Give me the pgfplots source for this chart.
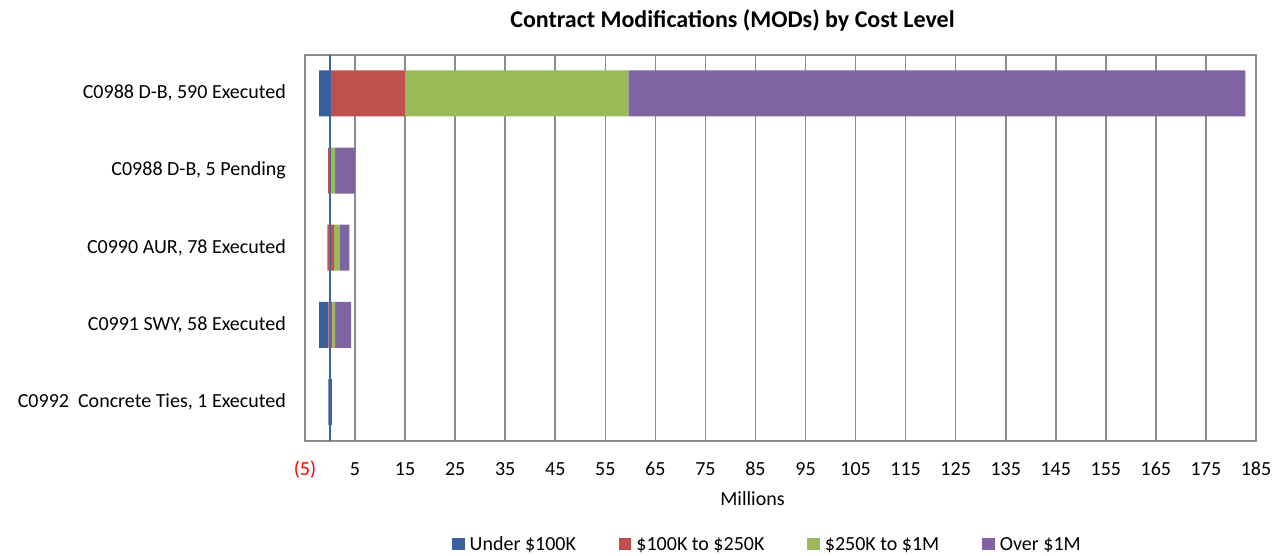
\documentclass[border=0pt]{standalone}
\usepackage{pgfplots}
\usepackage{pgfplotstable}
\pgfplotsset{compat=1.18}
\usepackage{fontspec}
\setmainfont{Carlito}
\definecolor{cblue}{HTML}{38619C}
\definecolor{cred}{HTML}{C0504D}
\definecolor{cgreen}{HTML}{9BBB59}
\definecolor{cpurple}{HTML}{8064A2}
\definecolor{cgrid}{HTML}{8C8C8C}
\definecolor{czero}{HTML}{3A65A5}

% positive parts (stacked to the right of zero)
\pgfplotstableread{
row blue red green purple
0 0 15.0 44.6 123.3
1 0 0 1.0 3.95
2 0 0.8 1.06 2.0
3 0 0.46 0.54 3.2
4 0.34 0 0 0
}\postab
% negative parts (stacked to the left of zero)
\pgfplotstableread{
row red blue
0 0 -2.2
1 -0.4 0
2 -0.54 0
3 -0.34 -1.86
4 0 -0.35
}\negtab

\newcommand{\lbl}{\fontsize{20}{24}\selectfont}
\pgfplotsset{common/.style={
  width=951pt, height=386pt, scale only axis,
  at={(0pt,0pt)}, anchor=south west,
  xmin=-5, xmax=185, ymin=-0.5, ymax=4.5, y dir=reverse,
  xbar stacked, bar width=46pt,
}}

\begin{document}
\begin{tikzpicture}
\path[use as bounding box] (-305pt,-114.3pt) rectangle (974pt,440.7pt);
\begin{axis}[common,
  font=\lbl,
  /pgf/number format/assume math mode=true,
  xtick={-5,5,...,185},
  xticklabels={{\textcolor{red}{(5)}},5,15,25,35,45,55,65,75,85,95,105,115,125,135,145,155,165,175,185},
  ytick={0,1,2,3,4},
  yticklabels={{C0988 D-B, 590 Executed},{C0988 D-B, 5 Pending},{C0990 AUR, 78 Executed},{C0991 SWY, 58 Executed},{C0992\ \ Concrete Ties, 1 Executed}},
  major tick length=0pt,
  tick style={draw=none},
  xmajorgrids, ymajorgrids=false,
  grid style={cgrid, line width=1.6pt},
  axis line style={cgrid, line width=1.6pt},
  xticklabel style={anchor=base, inner sep=0pt, yshift=-34.3pt, font=\lbl},
  yticklabel style={anchor=base east, inner sep=0pt, xshift=-19pt, yshift=-5.3pt, font=\lbl},
  xlabel={Millions},
  xlabel style={at={(axis description cs:0.4706,0)}, anchor=base, inner sep=0pt, yshift=-64.3pt, font=\lbl},
  title={Contract Modifications (MODs) by Cost Level},
  title style={at={(axis description cs:0.4495,1)}, anchor=base, inner sep=0pt, yshift=21.6pt, font=\bfseries\fontsize{24}{28}\selectfont},
  legend columns=4,
  legend image code/.code={\draw[#1, draw=none] (0pt,-6pt) rectangle (12.5pt,6pt);},
  legend style={draw=none, fill=none, at={(axis description cs:0.1546,-0.2890)}, anchor=south west, inner sep=0pt,
    nodes={inner sep=0pt, font=\lbl},
    /tikz/every even column/.append style={column sep=43pt},
    /tikz/every odd column/.append style={column sep=5pt}},
]
\addplot[fill=cblue, draw=none] table[x=blue, y=row] {\postab};
\addlegendentry{Under \$100K}
\addplot[fill=cred, draw=none] table[x=red, y=row] {\postab};
\addlegendentry{\$100K to \$250K}
\addplot[fill=cgreen, draw=none] table[x=green, y=row] {\postab};
\addlegendentry{\$250K to \$1M}
\addplot[fill=cpurple, draw=none] table[x=purple, y=row] {\postab};
\addlegendentry{Over \$1M}
\end{axis}
\begin{axis}[common, hide axis]
\addplot[fill=cred, draw=none] table[x=red, y=row] {\negtab};
\addplot[fill=cblue, draw=none] table[x=blue, y=row] {\negtab};
\draw[czero, line width=1.5pt] (axis cs:0,-0.5) -- (axis cs:0,4.5);
\end{axis}
\end{tikzpicture}
\end{document}
